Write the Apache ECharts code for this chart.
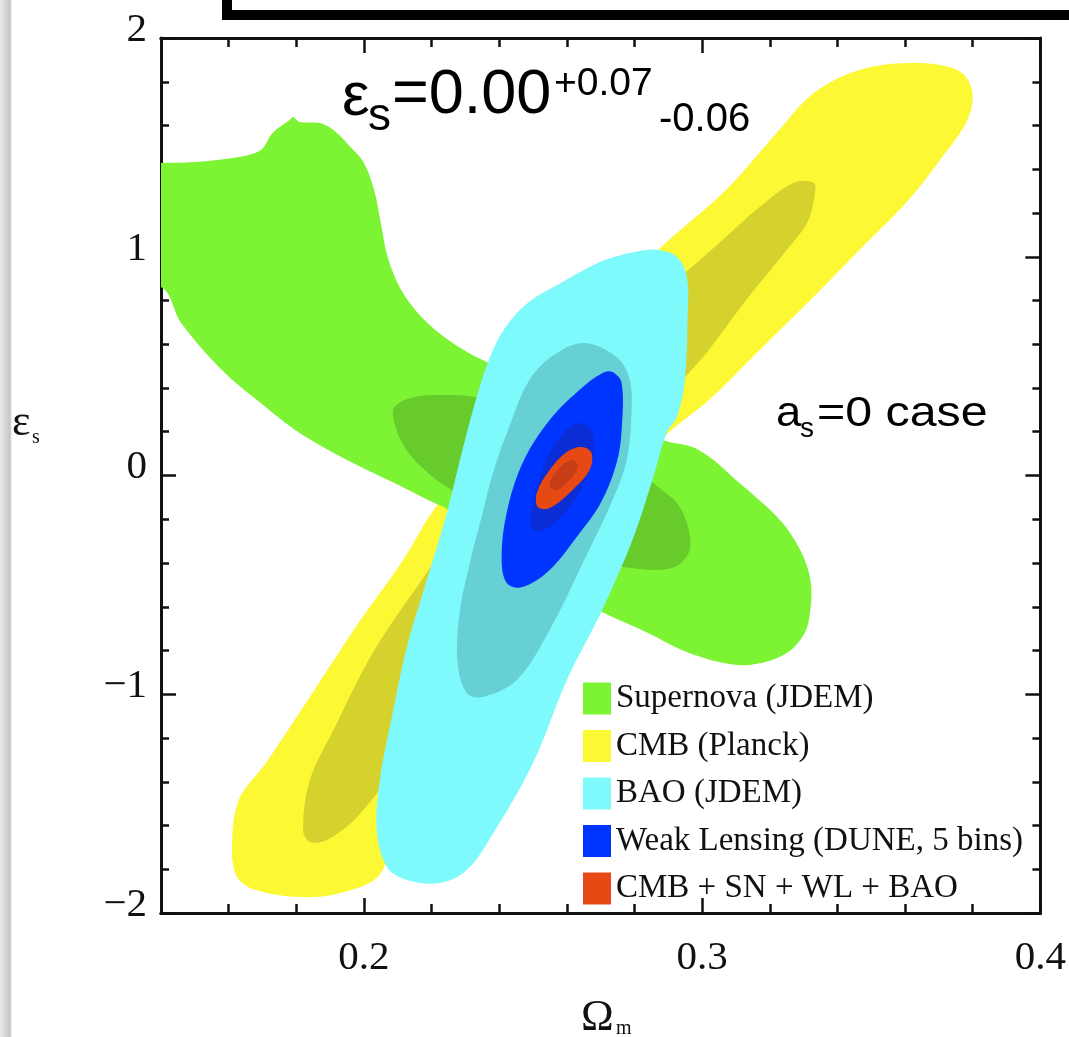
<!DOCTYPE html>
<html>
<head>
<meta charset="utf-8">
<script src="https://cdn.jsdelivr.net/npm/echarts@6/dist/echarts.min.js"></script>
<style>html,body{margin:0;padding:0;background:#fff;}#c{width:1069px;height:1037px;}</style>
</head>
<body>
<div id="c"></div>
<script>
// ---- axes ----
const xRange = [0.14, 0.4];
const yRange = [-2, 2];
const xMajorTicks = [0.2, 0.3, 0.4];
const xMinorTicks = [0.16, 0.18, 0.22, 0.24, 0.26, 0.28, 0.32, 0.34, 0.36, 0.38];
const xTickLabels = [0.2, 0.3, 0.4];

// ---- contour outlines [Omega_m, eps_s] ----
const snOuter = [[0.12,1.42],[0.140,1.429],[0.150,1.433],[0.163,1.456],[0.1695,1.488],[0.173,1.566],[0.178,1.625],[0.179,1.639],[0.181,1.616],[0.187,1.611],[0.191,1.579],[0.196,1.502],[0.200,1.429],[0.203,1.305],[0.205,1.154],[0.207,1.000],[0.211,0.848],[0.217,0.725],[0.225,0.619],[0.231,0.560],[0.237,0.514],[0.258,0.345],[0.276,0.231],[0.288,0.162],[0.299,0.117],[0.311,-0.034],[0.323,-0.203],[0.329,-0.341],[0.332,-0.478],[0.332,-0.615],[0.330,-0.729],[0.324,-0.821],[0.314,-0.866],[0.305,-0.853],[0.294,-0.798],[0.284,-0.720],[0.271,-0.629],[0.258,-0.523],[0.240,-0.341],[0.225,-0.158],[0.219,-0.112],[0.209,-0.034],[0.195,0.071],[0.181,0.194],[0.1695,0.331],[0.158,0.482],[0.146,0.697],[0.140,0.862],[0.12,0.9]];
const snInner = [[0.209,0.313],[0.215,0.359],[0.224,0.368],[0.2325,0.359],[0.246,0.299],[0.264,0.185],[0.279,0.048],[0.287,-0.053],[0.293,-0.135],[0.296,-0.249],[0.296,-0.354],[0.291,-0.423],[0.279,-0.423],[0.270,-0.386],[0.252,-0.249],[0.237,-0.135],[0.226,-0.066],[0.217,0.039],[0.212,0.130],[0.209,0.240]];
const cmbOuter = [[0.287,1.031],[0.307,1.305],[0.322,1.566],[0.333,1.749],[0.3465,1.854],[0.361,1.886],[0.373,1.867],[0.378,1.822],[0.380,1.730],[0.378,1.611],[0.371,1.456],[0.361,1.259],[0.3465,1.031],[0.332,0.802],[0.317,0.574],[0.302,0.345],[0.290,0.194],[0.270,-0.112],[0.246,-0.569],[0.225,-1.026],[0.211,-1.483],[0.205,-1.817],[0.193,-1.909],[0.181,-1.927],[0.168,-1.895],[0.1625,-1.835],[0.161,-1.698],[0.163,-1.483],[0.171,-1.314],[0.184,-1.013],[0.199,-0.661],[0.211,-0.400],[0.220,-0.171],[0.240,0.254],[0.264,0.665]];
const cmbInner = [[0.333,1.337],[0.333,1.259],[0.331,1.154],[0.325,1.031],[0.313,0.802],[0.302,0.574],[0.295,0.450],[0.2815,0.208],[0.258,-0.249],[0.234,-0.798],[0.211,-1.301],[0.198,-1.561],[0.189,-1.666],[0.184,-1.675],[0.182,-1.621],[0.184,-1.392],[0.191,-1.163],[0.2026,-0.811],[0.2165,-0.491],[0.234,-0.112],[0.258,0.345],[0.2815,0.757],[0.297,0.953],[0.307,1.090],[0.317,1.227],[0.327,1.337]];
const baoOuter = [[0.273,0.994],[0.2815,1.026],[0.287,1.031],[0.2925,1.000],[0.2955,0.907],[0.2957,0.725],[0.2948,0.423],[0.2925,0.267],[0.2895,0.194],[0.2853,-0.021],[0.2794,-0.295],[0.270,-0.629],[0.260,-0.935],[0.250,-1.314],[0.237,-1.666],[0.2304,-1.803],[0.2224,-1.863],[0.2127,-1.849],[0.2068,-1.790],[0.2038,-1.621],[0.2047,-1.392],[0.2085,-1.086],[0.2127,-0.784],[0.2186,-0.478],[0.2245,-0.171],[0.2286,0.085],[0.2325,0.313],[0.2366,0.514],[0.2413,0.665],[0.2484,0.789],[0.2582,0.880],[0.2679,0.962]];
const baoInner = [[0.2647,0.606],[0.2747,0.542],[0.2786,0.437],[0.2791,0.286],[0.2777,0.071],[0.2735,-0.112],[0.2647,-0.400],[0.2549,-0.706],[0.2452,-0.935],[0.2351,-1.013],[0.2304,-0.994],[0.2277,-0.857],[0.2283,-0.629],[0.2313,-0.400],[0.2351,-0.171],[0.2384,0.025],[0.2434,0.240],[0.2484,0.423],[0.2549,0.537]];
const wlOuter = [[0.2735,0.473],[0.2762,0.423],[0.2762,0.208],[0.2747,0.057],[0.270,-0.126],[0.2629,-0.281],[0.2549,-0.432],[0.2469,-0.510],[0.2422,-0.491],[0.2407,-0.373],[0.2422,-0.171],[0.2469,0.057],[0.2549,0.254],[0.2647,0.405],[0.2706,0.469]];
const wlInner = [[0.2638,0.240],[0.2676,0.194],[0.2673,0.057],[0.2629,-0.098],[0.2549,-0.235],[0.2499,-0.249],[0.2496,-0.158],[0.2528,0.025],[0.2579,0.176]];
const allOuter = [[0.2644,0.130],[0.2673,0.103],[0.2667,0.025],[0.2617,-0.066],[0.2549,-0.149],[0.2514,-0.144],[0.2511,-0.080],[0.2549,0.025],[0.2599,0.107]];
const allInner = [[0.2617,0.071],[0.2632,0.039],[0.2608,-0.021],[0.257,-0.066],[0.2549,-0.053],[0.2558,-0.007],[0.2588,0.048]];

const legendNames = ['Supernova (JDEM)', 'CMB (Planck)', 'BAO (JDEM)', 'Weak Lensing (DUNE, 5 bins)', 'CMB + SN + WL + BAO'];

function contour(name, pts, color) {
  return {
    type: 'custom', name: name, coordinateSystem: 'cartesian2d',
    xAxisIndex: 0, yAxisIndex: 0, clip: true, silent: true,
    itemStyle: { color: color },
    data: pts,
    encode: { x: 0, y: 1 },
    renderItem: function (params, api) {
      if (params.dataIndex !== 0) return null;
      const p = pts.map(function (d) { return api.coord(d); });
      return { type: 'polygon', shape: { points: p, smooth: 0.35 }, style: { fill: color } };
    }
  };
}

const serif = '"Liberation Serif", "DejaVu Serif", serif';
const sans = '"Liberation Sans", Arial, sans-serif';
const axisLine = { show: true, onZero: false, lineStyle: { color: '#111', width: 3 } };

function xAx(pos, ticks, len, labels) {
  return {
    type: 'value', position: pos, min: xRange[0], max: xRange[1],
    axisLine: axisLine, splitLine: { show: false },
    axisTick: { show: true, inside: true, length: len, customValues: ticks, lineStyle: { color: '#111', width: 2.5 } },
    axisLabel: labels ? { show: true, customValues: xTickLabels, formatter: function (v) { return v.toFixed(1); },
      fontFamily: serif, fontSize: 41, color: '#111', margin: 25 } : { show: false }
  };
}
function yAx(pos, labels) {
  return {
    type: 'value', position: pos, min: yRange[0], max: yRange[1], interval: 1,
    axisLine: axisLine, splitLine: { show: false },
    axisTick: { show: true, inside: true, length: 15, lineStyle: { color: '#111', width: 2.5 } },
    minorTick: { show: true, splitNumber: 5, length: 8, lineStyle: { color: '#111', width: 2.5 } },
    axisLabel: labels ? { show: true, formatter: function (v) { return v < 0 ? '\u2212' + Math.abs(v) : String(v); },
      fontFamily: serif, fontSize: 41, color: '#111', margin: 14, verticalAlign: 'bottom', lineHeight: 16 } : { show: false }
  };
}

const chart = echarts.init(document.getElementById('c'), null, { renderer: 'canvas' });
chart.setOption({
  animation: false,
  backgroundColor: '#fff',
  grid: { left: 161, right: 28, top: 38, bottom: 124, containLabel: false },
  xAxis: [xAx('bottom', xMajorTicks, 15, true), xAx('bottom', xMinorTicks, 9, false),
          xAx('top', xMajorTicks, 15, false), xAx('top', xMinorTicks, 9, false)],
  yAxis: [yAx('left', true), yAx('right', false)],
  legend: {
    data: legendNames, orient: 'vertical', left: 583, top: 682, padding: 0,
    itemWidth: 28, itemHeight: 32, itemGap: 14.5, icon: 'rect', selectedMode: false,
    textStyle: { fontFamily: serif, fontSize: 33, color: '#111', lineHeight: 32 }
  },
  series: [
    contour('CMB (Planck)', cmbOuter, '#fdf834'),
    contour('CMB inner', cmbInner, '#d5d22e'),
    contour('Supernova (JDEM)', snOuter, '#7cf434'),
    contour('Supernova inner', snInner, '#66cb2b'),
    contour('BAO (JDEM)', baoOuter, '#7ef9fc'),
    contour('BAO inner', baoInner, '#67d0d5'),
    contour('Weak Lensing (DUNE, 5 bins)', wlOuter, '#0034ff'),
    contour('WL inner', wlInner, '#0a2dd6'),
    contour('CMB + SN + WL + BAO', allOuter, '#e64914'),
    contour('All inner', allInner, '#c63e17')
  ],
  graphic: [
    { type: 'rect', left: 0, top: 0, shape: { width: 12, height: 1037 }, z: 100,
      style: { fill: new echarts.graphic.LinearGradient(0, 0, 1, 0, [{ offset: 0, color: '#ececec' }, { offset: 0.85, color: '#c4c4c4' }, { offset: 1, color: '#ffffff' }]) } },
    { type: 'rect', shape: { x: 227, y: -60, width: 900, height: 75 }, z: 100, style: { fill: 'none', stroke: '#000', lineWidth: 10 } },
    // annotation: eps_s = 0.00 +0.07 -0.06
    { type: 'text', x: 342, y: 98, z: 100, style: { text: '\u03b5', font: '62px ' + sans, fill: '#000', verticalAlign: 'middle' } },
    { type: 'text', x: 368, y: 117, z: 100, style: { text: 's', font: '46px ' + sans, fill: '#000', verticalAlign: 'middle' } },
    { type: 'text', x: 392, y: 96, z: 100, style: { text: '=0.00', font: '63px ' + sans, fill: '#000', verticalAlign: 'middle' } },
    { type: 'text', x: 554, y: 84, z: 100, style: { text: '+0.07', font: '39px ' + sans, fill: '#000', verticalAlign: 'middle' } },
    { type: 'text', x: 659, y: 120, z: 100, style: { text: '-0.06', font: '40px ' + sans, fill: '#000', verticalAlign: 'middle' } },
    // annotation: a_s = 0 case
    { type: 'text', x: 776, y: 414, z: 100, scaleX: 1.08, style: { text: 'a', font: '42px ' + sans, fill: '#000', verticalAlign: 'middle' } },
    { type: 'text', x: 800, y: 429, z: 100, style: { text: 's', font: '28px ' + sans, fill: '#000', verticalAlign: 'middle' } },
    { type: 'text', x: 817, y: 414, z: 100, scaleX: 1.15, style: { text: '=0 case', font: '42px ' + sans, fill: '#000', verticalAlign: 'middle' } },
    // axis names
    { type: 'text', x: 12, y: 423, z: 100, style: { text: '\u03b5', font: '44px ' + serif, fill: '#111', verticalAlign: 'middle' } },
    { type: 'text', x: 32, y: 438, z: 100, style: { text: 's', font: '20px ' + serif, fill: '#111', verticalAlign: 'middle' } },
    { type: 'text', x: 581, y: 1018, z: 100, style: { text: '\u03a9', font: '44px ' + serif, fill: '#111', verticalAlign: 'middle' } },
    { type: 'text', x: 616, y: 1029, z: 100, style: { text: 'm', font: '20px ' + serif, fill: '#111', verticalAlign: 'middle' } }
  ]
});
</script>
</body>
</html>
